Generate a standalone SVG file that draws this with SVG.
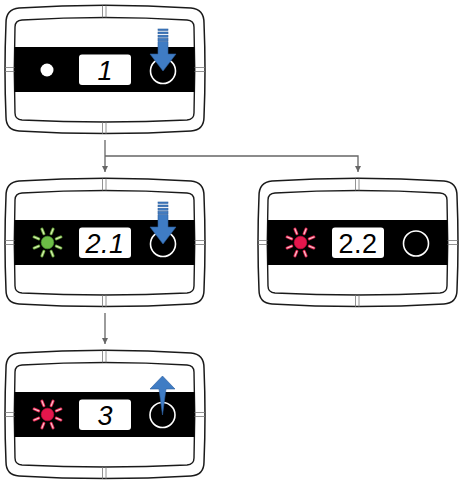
<svg xmlns="http://www.w3.org/2000/svg" xmlns:xlink="http://www.w3.org/1999/xlink" width="466" height="483" viewBox="0 0 466 483">
<style>
.outer{fill:#fff;stroke:#1a1a1a;stroke-width:1.5}
.inner{fill:#fff;stroke:#1a1a1a;stroke-width:1.4}
.tick{stroke:#777;stroke-width:0.8;fill:none}
.band{fill:#000}
.disp{fill:#fff}
.num{font-family:"Liberation Sans",Arial,sans-serif;font-size:27px;fill:#000;text-anchor:middle}
.it{font-style:italic}
.ring{fill:none;stroke:#fff;stroke-width:1.6}
.blue{fill:#3f7cc4;stroke:#2a5c9c;stroke-width:0.6}
.conn{fill:none;stroke:#666;stroke-width:1.3}
.rayg-o{fill:none;stroke:#6aa83e;stroke-width:3;stroke-linecap:round}
.rayg-i{fill:none;stroke:#d9efb2;stroke-width:1.2;stroke-linecap:round}
.rayr-o{fill:none;stroke:#e0234f;stroke-width:3;stroke-linecap:round}
.rayr-i{fill:none;stroke:#f8c6cf;stroke-width:1.2;stroke-linecap:round}
</style>
<defs>
<clipPath id="innerClip">
<path d="M22,20 Q105,15 187,20 Q194,20.5 194,27 Q195.5,70 194,113 Q194,119.5 187,120 Q105,124 22,120 Q15,119.5 15,113 Q13.5,70 15,27 Q15,20.5 22,20 Z"/>
</clipPath>
<g id="frame">
<path class="outer" d="M19,8 Q105,2.5 191,8 Q204,9 204,23 Q206,70 204,117 Q204,130 191,131 Q105,136 19,131 Q6,130 6,117 Q4,70 6,23 Q6,9 19,8 Z"/>
<path class="inner" d="M22,20 Q105,15 187,20 Q194,20.5 194,27 Q195.5,70 194,113 Q194,119.5 187,120 Q105,124 22,120 Q15,119.5 15,113 Q13.5,70 15,27 Q15,20.5 22,20 Z"/>
<rect class="band" x="12" y="47" width="186" height="45" clip-path="url(#innerClip)"/>
<path class="tick" d="M102.5,5.5V17.5M106,5.5V17.5M102.5,122V134M106,122V134M5,67.5H14.5M5,71.5H14.5M194.5,67.5H205M194.5,71.5H205"/>
<rect class="disp" x="79" y="54.5" width="52" height="30.5" rx="3"/>
</g>
<path id="rays" d="M8.78,3.64L13.4,5.55M3.64,8.78L5.55,13.4M-3.64,8.78L-5.55,13.4M-8.78,3.64L-13.4,5.55M-8.78,-3.64L-13.4,-5.55M-3.64,-8.78L-5.55,-13.4M3.64,-8.78L5.55,-13.4M8.78,-3.64L13.4,-5.55"/>
<g id="downArrow">
<rect class="blue" x="158" y="29" width="10" height="1.4" stroke="none"/>
<rect class="blue" x="158" y="32" width="10" height="1.7" stroke="none"/>
<rect class="blue" x="158" y="35.2" width="10" height="2" stroke="none"/>
<rect class="blue" x="158" y="38.5" width="10" height="2.3" stroke="none"/>
<path class="blue" d="M158,41.5H168V54H176L163,71L150,54H158Z"/>
</g>
<marker id="arr" viewBox="0 0 6 6" refX="6" refY="3" markerWidth="6" markerHeight="6" markerUnits="userSpaceOnUse" orient="auto">
<path d="M0,0L6,3L0,6Z" fill="#666"/>
</marker>
</defs>

<g id="connectors">
<path class="conn" d="M105,140V172" marker-end="url(#arr)"/>
<path class="conn" d="M105,156H358V172" marker-end="url(#arr)"/>
<path class="conn" d="M105,313V344" marker-end="url(#arr)"/>
</g>

<g id="node-1">
<use xlink:href="#frame"/>
<circle cx="47" cy="70" r="6.5" fill="#fff"/>
<text class="num it" x="105" y="79.5">1</text>
<circle class="ring" cx="163" cy="71" r="12.5"/>
<use xlink:href="#downArrow"/>
</g>

<g id="node-2-1" transform="translate(0,173)">
<use xlink:href="#frame"/>
<g transform="translate(47.5,69.5)">
<use xlink:href="#rays" class="rayg-o"/>
<use xlink:href="#rays" class="rayg-i"/>
<circle r="6.3" fill="#6cbd46" stroke="#4f9a33" stroke-width="0.6"/>
</g>
<text class="num it" x="105" y="79.5" letter-spacing="0.5">2.1</text>
<circle class="ring" cx="163" cy="71" r="12.5"/>
<use xlink:href="#downArrow"/>
</g>

<g id="node-2-2" transform="translate(253,173)">
<use xlink:href="#frame"/>
<g transform="translate(47.5,69.5)">
<use xlink:href="#rays" class="rayr-o"/>
<use xlink:href="#rays" class="rayr-i"/>
<circle r="6.3" fill="#e5164c" stroke="#c20f3c" stroke-width="0.6"/>
</g>
<text class="num" x="105" y="79.5" letter-spacing="0.5">2.2</text>
<circle class="ring" cx="163" cy="70.5" r="12.5"/>
</g>

<g id="node-3" transform="translate(0,345)">
<use xlink:href="#frame"/>
<g transform="translate(47.5,69.5)">
<use xlink:href="#rays" class="rayr-o"/>
<use xlink:href="#rays" class="rayr-i"/>
<circle r="6.3" fill="#e5164c" stroke="#c20f3c" stroke-width="0.6"/>
</g>
<text class="num it" x="105" y="79.5">3</text>
<circle class="ring" cx="162.5" cy="70" r="12.5"/>
<path class="blue" d="M162.5,31L175,44H166L162.5,70L159,44H150Z"/>
</g>
</svg>
